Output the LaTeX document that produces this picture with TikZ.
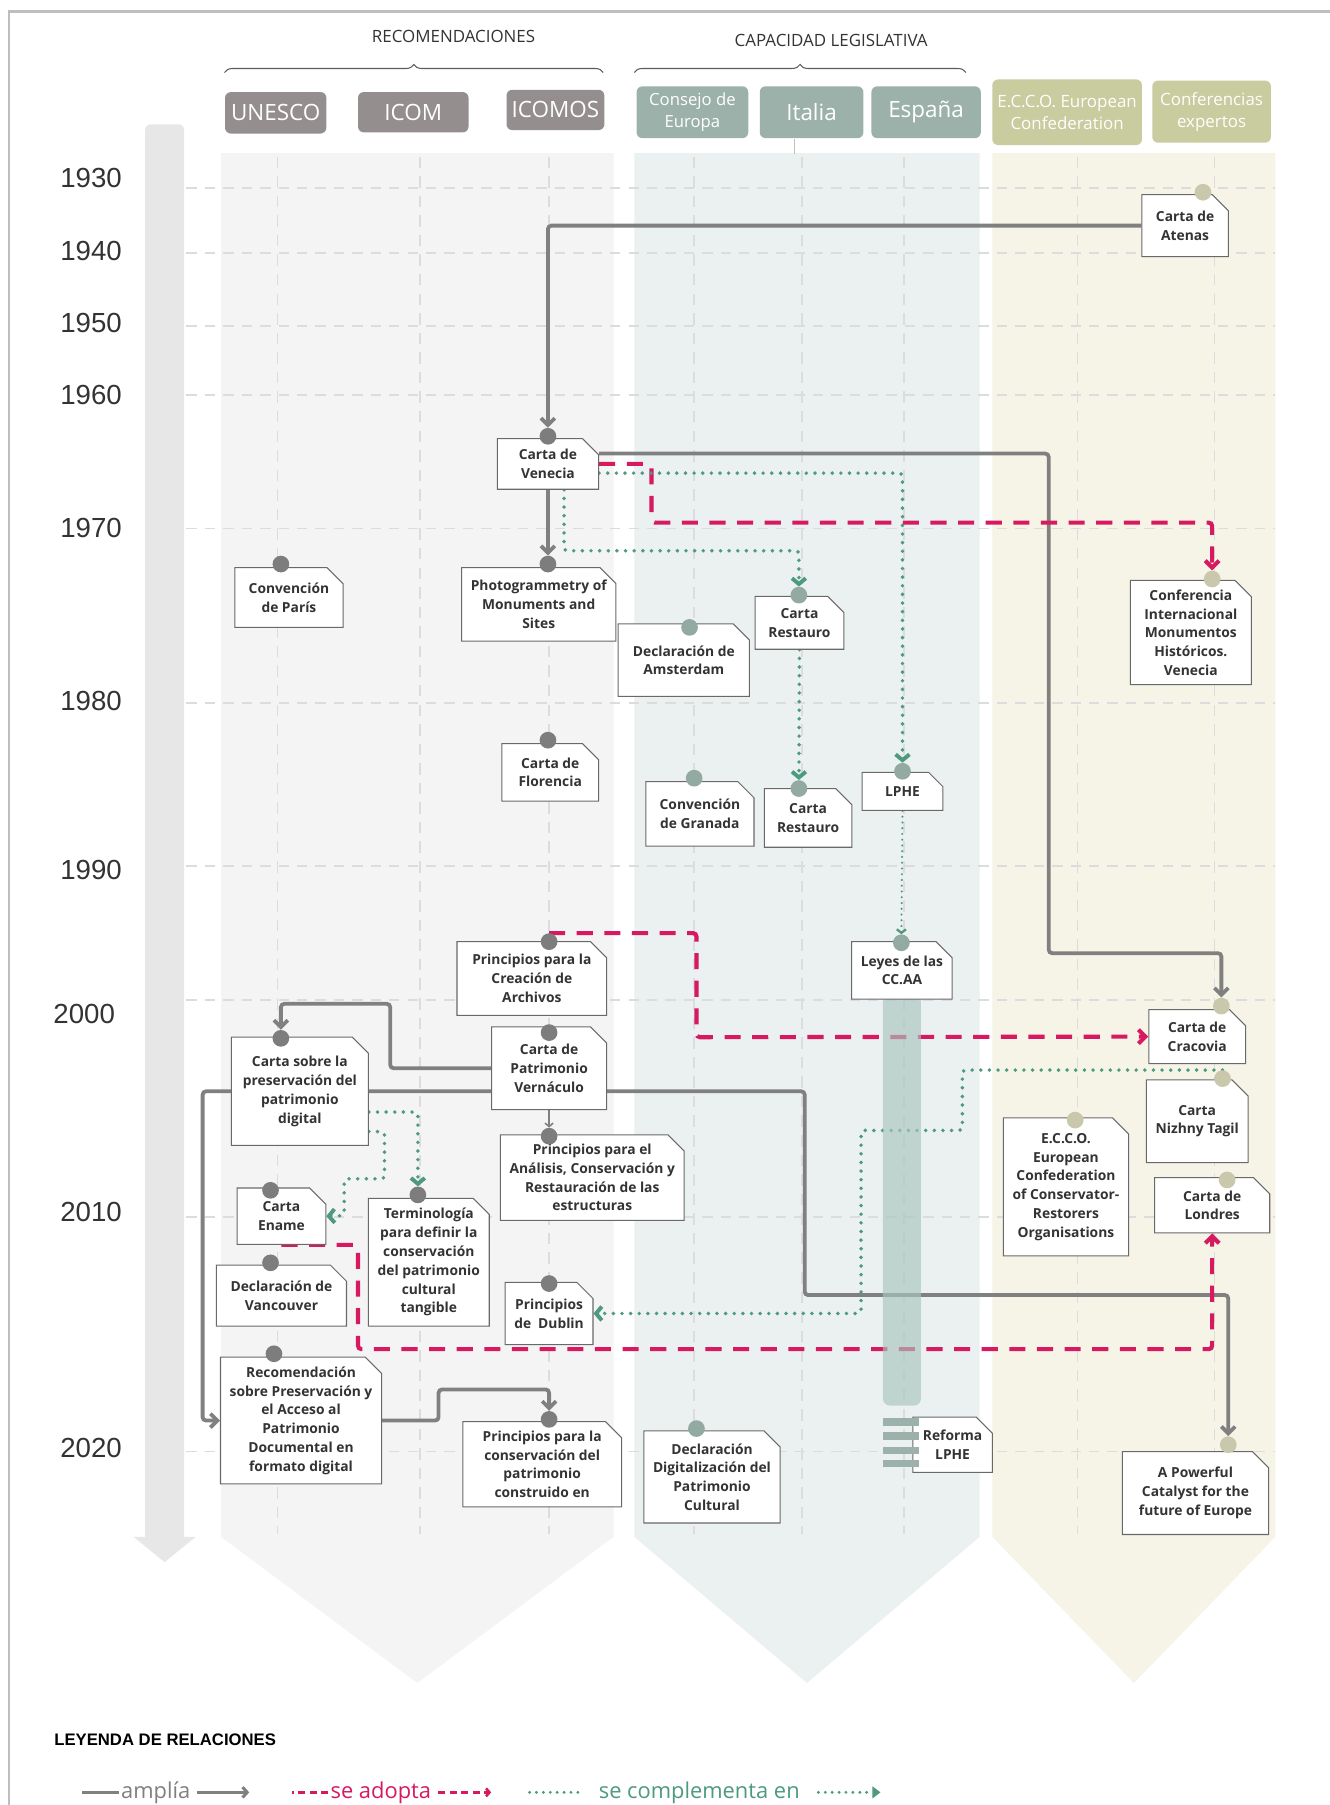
\documentclass[tikz,border=0pt]{standalone}
\usepackage{fontspec}
\setmainfont{Open Sans}
\newfontfamily\yearfont{Liberation Sans}
\usepackage{xcolor}
\usepackage{tikz}
\usetikzlibrary{shapes.misc, arrows.meta, decorations.pathreplacing}
\definecolor{bandone}{RGB}{244,244,244}
\definecolor{bandtwo}{RGB}{235,240,240}
\definecolor{bandthree}{RGB}{245,244,231}
\definecolor{unescogray}{RGB}{148,143,142}
\definecolor{consejogreen}{RGB}{156,177,169}
\definecolor{eccoolive}{RGB}{200,204,159}
\definecolor{dotgray}{RGB}{125,125,125}
\definecolor{dotgreen}{RGB}{147,170,162}
\definecolor{dotolive}{RGB}{201,200,172}
\definecolor{linegray}{RGB}{128,128,128}
\definecolor{adoptred}{RGB}{214,25,96}
\definecolor{complgreen}{RGB}{78,154,126}
\definecolor{gridgray}{RGB}{220,220,220}
\definecolor{boxline}{RGB}{105,105,105}
\definecolor{textdark}{RGB}{51,51,51}
\definecolor{timeline}{RGB}{231,231,231}
\definecolor{ccaabar}{RGB}{170,198,190}
\definecolor{framegray}{RGB}{190,190,190}
\pgfdeclarelayer{bands}
\pgfdeclarelayer{lines}
\pgfdeclarelayer{bars}
\pgfsetlayers{bands,lines,bars,main}

\begin{document}
\begin{tikzpicture}[
  x=1pt, y=-1pt,
  docnode/.style 2 args={chamfered rectangle, chamfered rectangle corners=north east,
    chamfered rectangle xsep=7pt, chamfered rectangle ysep=7pt,
    draw=boxline, line width=0.9pt, fill=white, text=textdark,
    minimum width=#1, minimum height=#2, inner sep=1pt, align=center,
    font=\bfseries\fontsize{12}{16.3}\selectfont,
    append after command={[draw=boxline, line width=0.6pt]
      ([xshift=-7pt]\tikzlastnode.north -| \tikzlastnode.east)
      |- ([yshift=-7pt]\tikzlastnode.north -| \tikzlastnode.east)}},
  docdot/.style={circle, fill=#1, minimum size=14.5pt, inner sep=0pt},
  headbox/.style={rounded corners=5pt, text=white, align=center, inner sep=1pt},
  headbig/.style={font=\fontsize{19.5}{21}\selectfont},
  headmid/.style={font=\fontsize{14.5}{19}\selectfont},
  headsmall/.style={font=\fontsize{14.7}{19}\selectfont},
  amplia/.style={draw=linegray, line width=3.3pt, rounded corners=3pt,
    -{Straight Barb[length=6pt,width=12pt]}},
  adopta/.style={draw=adoptred, line width=3.6pt, dash pattern=on 14pt off 10pt,
    rounded corners=3pt, -{Straight Barb[length=6pt,width=12pt]}},
  complementa/.style={draw=complgreen, line width=3.4pt, line cap=round,
    dash pattern=on 0pt off 7.5pt, rounded corners=3pt,
    -{Straight Barb[length=5pt,width=12pt]}},
  hgrid/.style={draw=gridgray, line width=1.5pt, dash pattern=on 9pt off 7pt},
  vgrid/.style={draw=gridgray, line width=1.6pt, dash pattern=on 10pt off 7pt},
  yearlabel/.style={font=\yearfont\fontsize{24}{26}\selectfont, text=textdark,
    anchor=east, inner sep=0pt},
  sectionbrace/.style={draw=textdark!80, line width=0.9pt, decorate,
    decoration={brace, amplitude=7pt}},
  legtext/.style={font=\fontsize{19}{22}\selectfont, anchor=west, inner sep=2pt}
]
\useasboundingbox (0,0) rectangle (1155,1568);

% background, timeline and columns
\begin{pgfonlayer}{bands}
\fill[white] (0,0) rectangle (1155,1568);
\draw[framegray, line width=2pt] (8,1568) -- (8,10) -- (1155,10);
\fill[timeline, rounded corners=5pt] (126,108) rectangle (160,1340);
\fill[timeline] (116,1335) -- (170,1335) -- (143,1357) -- cycle;
\fill[bandone] (192,133) -- (533,133) -- (533,1335) -- (362.5,1462) -- (192,1335) -- cycle;
\fill[bandtwo] (551,133) -- (851,133) -- (851,1335) -- (701,1462) -- (551,1335) -- cycle;
\fill[bandthree] (862,133) -- (1108,133) -- (1108,1335) -- (985,1462) -- (862,1335) -- cycle;
\foreach \gy in {163,220,283,343,459,611,752,869,1057,1261}
  \draw[hgrid] (162,\gy) -- (1108,\gy);
\foreach \gx in {241,365,477,603,697,785,936,1055}
  \draw[vgrid] (\gx,136) -- (\gx,1333);
\draw[gridgray!70!gray, line width=1.2pt] (690,121) -- (690,134);
\end{pgfonlayer}

% years
\foreach \yr/\ty in {1930/155,1940/218,1950/281,1960/343,1970/459,1980/609,1990/756,2010/1053,2020/1258}
  \node[yearlabel] (y\yr) at (106,\ty) {\yr};
\node[yearlabel] (y2000) at (100,881) {2000};

% headers
\node[font=\fontsize{14.7}{16}\selectfont, text=textdark] (recom) at (394,32) {RECOMENDACIONES};
\node[font=\fontsize{14.7}{16}\selectfont, text=textdark] (capac) at (722,35) {CAPACIDAD LEGISLATIVA};
\draw[sectionbrace] (195,63) -- (524,63);
\draw[sectionbrace] (551,63) -- (839,63);
\node[headbox, headbig, fill=unescogray, minimum width=88pt, minimum height=36pt] (unesco) at (239.5,98) {UNESCO};
\node[headbox, headbig, fill=unescogray, minimum width=96pt, minimum height=35pt] (icom) at (359,97.5) {ICOM};
\node[headbox, headbig, fill=unescogray, minimum width=85pt, minimum height=35pt] (icomos) at (482.5,95.5) {ICOMOS};
\node[headbox, headmid, fill=consejogreen, minimum width=97pt, minimum height=45pt] (consejo) at (601.5,97.5) {Consejo de\\Europa};
\node[headbox, headbig, fill=consejogreen, minimum width=90pt, minimum height=45pt] (italia) at (705,97.5) {Italia};
\node[headbox, headbig, fill=consejogreen, minimum width=95pt, minimum height=45pt] (espana) at (804.5,97.5) {España};
\node[headbox, headsmall, fill=eccoolive, minimum width=130pt, minimum height=57pt] (eccohead) at (927,97.5) {E.C.C.O. European\\Confederation};
\node[headbox, headsmall, fill=eccoolive, minimum width=103pt, minimum height=54pt] (expertos) at (1052.5,97) {Conferencias\\expertos};

% documents
\node[docnode={75pt}{54pt}] (atenas) at (1029.5,196) {Carta de\\Atenas};
\node[docnode={88pt}{44pt}] (venecia) at (476,403) {Carta de\\Venecia};
\node[docnode={130pt}{64pt}] (photo) at (468,525) {Photogrammetry of\\Monuments and\\Sites};
\node[docnode={94pt}{52pt}] (paris) at (251,519) {Convención\\de París};
\node[docnode={84pt}{50pt}] (florencia) at (478,671) {Carta de\\Florencia};
\node[docnode={114pt}{63pt}] (amsterdam) at (594,573.5) {Declaración de\\Amsterdam};
\node[docnode={77pt}{46pt}] (restauro1) at (694.5,541) {Carta\\Restauro};
\node[docnode={105pt}{89pt}] (conferencia) at (1034.5,549.5) {Conferencia\\Internacional\\Monumentos\\Históricos.\\Venecia};
\node[docnode={94pt}{56pt}] (granada) at (608,707) {Convención\\de Granada};
\node[docnode={76pt}{51pt}] (restauro2) at (702,710.5) {Carta\\Restauro};
\node[docnode={70pt}{33pt}] (lphe) at (784,687.5) {LPHE};
\node[docnode={130pt}{64pt}] (archivos) at (462,850) {Principios para la\\Creación de\\Archivos};
\node[docnode={100pt}{72pt}] (vernaculo) at (477,928) {Carta de\\Patrimonio\\Vernáculo};
\node[docnode={119pt}{94pt}] (digital) at (260.5,948) {Carta sobre la\\preservación del\\patrimonio\\digital};
\node[docnode={159pt}{72pt}] (analisis) at (514.5,1023) {Principios para el\\Análisis, Conservación y\\Restauración de las\\estructuras};
\node[docnode={77pt}{49pt}] (ename) at (244.5,1056.5) {Carta\\Ename};
\node[docnode={105pt}{111pt}] (terminologia) at (372.5,1096.5) {Terminología\\para definir la\\conservación\\del patrimonio\\cultural\\tangible};
\node[docnode={113pt}{53pt}] (vancouver) at (244.5,1125.5) {Declaración de\\Vancouver};
\node[docnode={76pt}{54pt}] (dublin) at (477,1141) {Principios\\de\enspace Dublin};
\node[docnode={139pt}{110pt}] (recomendacion) at (261.5,1234) {Recomendación\\sobre Preservación y\\el Acceso al\\Patrimonio\\Documental en\\formato digital};
\node[docnode={138pt}{74pt}] (construido) at (471,1272) {Principios para la\\conservación del\\patrimonio\\construido en};
\node[docnode={115pt}{80pt}] (digitalizacion) at (618.5,1283) {Declaración\\Digitalización del\\Patrimonio\\Cultural};
\node[docnode={69pt}{48pt}] (reforma) at (827.5,1255) {Reforma\\LPHE};
\node[docnode={85pt}{50pt}] (leyes) at (783.5,843) {Leyes de las\\CC.AA};
\node[docnode={84pt}{47pt}] (cracovia) at (1040,900.5) {Carta de\\Cracovia};
\node[docnode={84pt}{72pt}] (nizhny) at (1040,974) {Carta\\Nizhny Tagil};
\node[docnode={108pt}{120pt}] (ecco) at (926,1031) {E.C.C.O.\\European\\Confederation\\of Conservator-\\Restorers\\Organisations};
\node[docnode={100pt}{48pt}] (londres) at (1053,1047) {Carta de\\Londres};
\node[docnode={127pt}{72pt}] (powerful) at (1038.5,1297) {A Powerful\\Catalyst for the\\future of Europe};

% markers
\node[docdot=dotolive] (atenas-d) at (1045,167) {};
\node[docdot=dotgray] (venecia-d) at (476,379) {};
\node[docdot=dotgray] (photo-d) at (476,490) {};
\node[docdot=dotgray] (paris-d) at (244,490) {};
\node[docdot=dotgray] (florencia-d) at (476,643) {};
\node[docdot=dotgreen] (amsterdam-d) at (599,545) {};
\node[docdot=dotgreen] (restauro1-d) at (694,517) {};
\node[docdot=dotolive] (conferencia-d) at (1053,503) {};
\node[docdot=dotgreen] (granada-d) at (603,676) {};
\node[docdot=dotgreen] (restauro2-d) at (694,685) {};
\node[docdot=dotgreen] (lphe-d) at (784,670) {};
\node[docdot=dotgray] (archivos-d) at (477,818) {};
\node[docdot=dotgray] (vernaculo-d) at (477,897) {};
\node[docdot=dotgray] (digital-d) at (244,902) {};
\node[docdot=dotgray] (analisis-d) at (477,987) {};
\node[docdot=dotgray] (ename-d) at (235,1034) {};
\node[docdot=dotgray] (terminologia-d) at (363,1038) {};
\node[docdot=dotgray] (vancouver-d) at (235,1097) {};
\node[docdot=dotgray] (dublin-d) at (477,1115) {};
\node[docdot=dotgray] (recomendacion-d) at (238,1176) {};
\node[docdot=dotgray] (construido-d) at (477,1233) {};
\node[docdot=dotgreen] (digitalizacion-d) at (605,1241) {};
\node[docdot=dotgreen] (leyes-d) at (783,819) {};
\node[docdot=dotolive] (cracovia-d) at (1061,874) {};
\node[docdot=dotolive] (nizhny-d) at (1062,937) {};
\node[docdot=dotolive] (ecco-d) at (934,973) {};
\node[docdot=dotolive] (londres-d) at (1066,1025) {};
\node[docdot=dotolive] (powerful-d) at (1067,1255) {};
\foreach \sy in {1232,1244,1257,1268}
  \fill[consejogreen] (767,\sy) rectangle (798,\sy+6.5);

% relations
\begin{pgfonlayer}{lines}
\draw[amplia] (atenas.west) -| (venecia-d.north);
\draw[amplia] (venecia.south) -- (photo-d.north);
\draw[amplia] ([yshift=9pt]venecia.east) -| (911,828) -| (cracovia-d.north);
\draw[amplia] (vernaculo.west) -| (339,872) -| (digital-d.north);
\draw[amplia, line width=1.4pt, -{Straight Barb[length=3pt,width=7pt]}] (vernaculo.south) -- (analisis-d.north);
\draw[amplia] (digital.west) -| (176,1234) -- (recomendacion.west);
\draw[amplia] (digital.east) -| (699,1125) -| (powerful-d.north);
\draw[amplia] (recomendacion.east) -| (381,1207) -| (construido-d.north);
\draw[adopta] (venecia.east) -| (566,454) -| (conferencia-d.north);
\draw[adopta] (archivos-d.north) -| (605,901) -- (cracovia.west);
\draw[adopta] (ename.south) -| (311,1172) -| (londres.south);
\draw[complementa] ([xshift=14pt]venecia.south) -- ++(0,53) -| (restauro1-d.north);
\draw[complementa] ([yshift=-8pt]venecia.east) -| (lphe-d.north);
\draw[complementa] (restauro1.south) -- (restauro2-d.north);
\draw[complementa, line width=2pt, dash pattern=on 0pt off 5pt,
  -{Straight Barb[length=3pt,width=8pt]}] (lphe.south) -- (leyes-d.north);
\draw[complementa] ([yshift=-18pt]digital.east) -| (terminologia-d.north);
\draw[complementa] ([yshift=-35pt]digital.east) -| (334,1024) -| (299,1056) -- (ename.east);
\draw[complementa] (nizhny-d.north) -| (836,982) -| (748,1141) -- (dublin.east);
\end{pgfonlayer}

\begin{pgfonlayer}{bars}
\fill[ccaabar, opacity=.65, rounded corners=6pt] (767,862) rectangle (800,1221);
\end{pgfonlayer}

% legend
\node[font=\yearfont\bfseries\fontsize{14.5}{16}\selectfont, anchor=west, inner sep=0pt] (leyenda) at (47,1511) {LEYENDA DE RELACIONES};
\node[legtext, text=linegray] (leg-amplia) at (103,1557) {amplía};
\draw[linegray, line width=2.6pt] (leg-amplia.west) -- ++(-32,0);
\draw[linegray, line width=2.6pt, -{Straight Barb[length=4pt,width=9pt]}] (leg-amplia.east) ++(4,0) -- ++(45,0);
\node[legtext, text=adoptred] (leg-adopta) at (285,1557) {se adopta};
\draw[adoptred, line width=2.2pt, dash pattern=on 6pt off 4pt] (leg-adopta.west) -- ++(-31,0);
\draw[adoptred, line width=2.2pt, dash pattern=on 6pt off 4pt, -{Straight Barb[length=3pt,width=7pt]}] (leg-adopta.east) ++(4,0) -- ++(46,0);
\node[legtext, text=complgreen] (leg-compl) at (518,1557) {se complementa en};
\draw[complgreen, line width=2.8pt, line cap=round, dash pattern=on 0pt off 6pt] ([xshift=-16pt]leg-compl.west) -- ++(-44,0);
\draw[complgreen, line width=2.8pt, line cap=round, dash pattern=on 0pt off 6pt, -{Triangle[length=7pt,width=10pt]}] (leg-compl.east) ++(14,0) -- ++(54,0);
\end{tikzpicture}
\end{document}
